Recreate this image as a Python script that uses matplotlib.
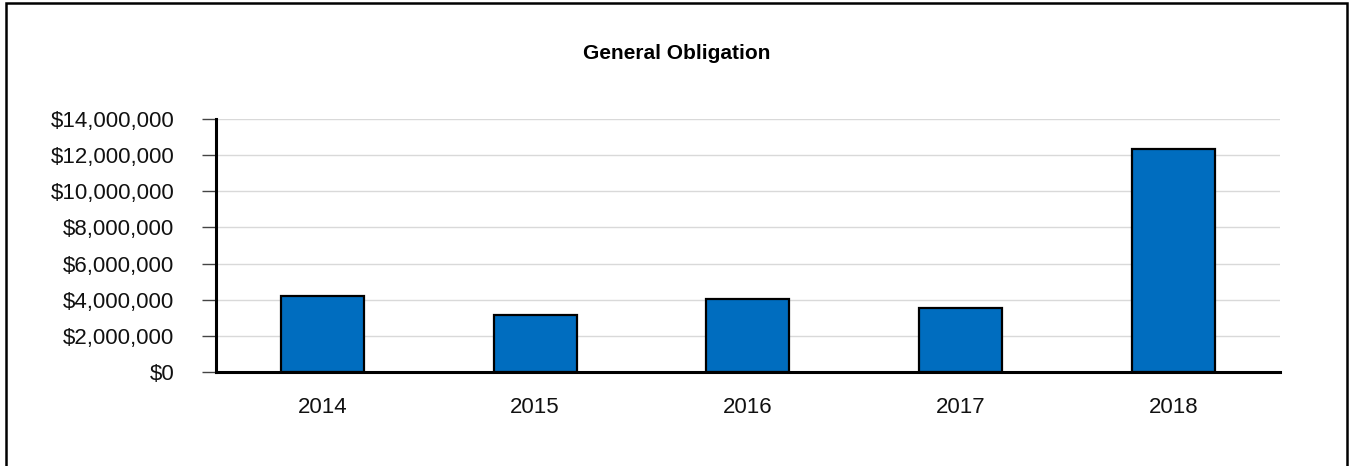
import matplotlib.pyplot as plt
from matplotlib.patches import Rectangle
from matplotlib.ticker import FuncFormatter

years = ['2014', '2015', '2016', '2017', '2018']
amounts = [4180000, 3150000, 4020000, 3560000, 12350000]

plt.rcParams['font.family'] = ['Liberation Sans', 'DejaVu Sans']

fig = plt.figure(figsize=(13.5, 4.66), dpi=100)
ax = fig.add_axes([0.16, 0.2017, 0.788, 0.543])

ax.bar(range(len(years)), amounts, width=0.39, color='#006dbf',
       edgecolor='black', linewidth=1.6, zorder=3)

ax.set_xlim(-0.5, len(years) - 0.5)
ax.set_ylim(0, 14000000)
ax.set_yticks(range(0, 14000001, 2000000))
ax.yaxis.set_major_formatter(FuncFormatter(lambda v, p: '${:,.0f}'.format(v)))
ax.set_xticks(range(len(years)))
ax.set_xticklabels(years)
ax.grid(axis='y', color='#d9d9d9', linewidth=1, zorder=0)
ax.set_axisbelow(True)

for s in ['top', 'right']:
    ax.spines[s].set_visible(False)
ax.spines['left'].set_linewidth(2.2)
ax.spines['bottom'].set_linewidth(2.2)
ax.spines['bottom'].set_zorder(4)
ax.tick_params(axis='y', length=10, width=1, color='#444444', pad=20, labelsize=16, labelcolor='#111111')
ax.tick_params(axis='x', length=0, pad=18, labelsize=16, labelcolor='#111111')

fig.text(0.501, 0.886, 'General Obligation', ha='center', va='center',
         fontsize=15, fontweight='bold')

# border around the whole chart
fig.patches.append(Rectangle((0.0044, -0.01), 0.9931, 1.0036, transform=fig.transFigure,
                             fill=False, edgecolor='black', linewidth=1.8))

fig.savefig('out.png', dpi=100)
